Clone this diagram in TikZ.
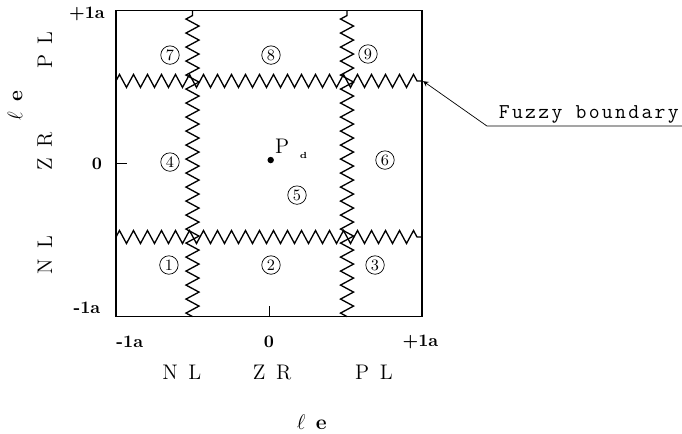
\documentclass[tikz,border=0pt]{standalone}
\usepackage{fontspec}
\newfontfamily\fuzzyfont[LetterSpace=11]{Latin Modern Mono}
\usetikzlibrary{decorations.pathmorphing}
\tikzset{
	fuzzy/.style={decorate,decoration={zigzag,segment length=.28cm,amplitude=.13cm},line width=.75pt},
	region/.style={circle,draw,inner sep=.5pt,minimum size=10.5pt,font=\small},
	tick/.style={font=\bfseries},
	term/.style={font=\large}
}
\begin{document}
\begin{tikzpicture}[>=stealth,scale=3.06]
			\def\xmin{-1}\def\xmax{1}\def\ymin{-1}\def\ymax{1}
			\useasboundingbox(-1.758,-1.761) rectangle (2.699,1.069);
			\draw[line width=1pt](\xmin,\ymin) rectangle (\xmax,\ymax);
			\draw(\xmin,0)--+(.07,0)(0,\ymin)--+(0,.07);
			% fuzzy boundaries
			\foreach \p in {-.5,.51}\draw[fuzzy](\p,\ymin)--(\p,\ymax);
			\foreach \p in {-.48,.54}\draw[fuzzy](\xmin,\p)--(\xmax,\p);
			% ticks
			\foreach \n/\x/\y/\t in {lt/-1.19/.977/+1a, lz/-1.124/0/0, lb/-1.19/-.944/-1a, bl/-.91/-1.167/-1a, bz/0/-1.167/0, br/.99/-1.167/+1a}
				\node[tick] (\n) at (\x,\y) {\t};
			\foreach \n/\x/\t in {bnl/-.57/N\enspace L, bzr/.02/Z\enspace R, bpl/.686/P\enspace L}
				\node[term] (\n) at (\x,-1.363) {\t};
			\foreach \n/\y/\t in {lnl/-.598/N\enspace L, lzr/.082/Z\enspace R, lpl/.742/P\enspace L}
				\node[term,rotate=90] (\n) at (-1.464,\y) {\t};
			\node[term] (le) at (.28,-1.69) {$\ell$\, \textbf{e}};
			\node[term,rotate=90] (dle) at (-1.66,.376) {$\ell$\, \textbf{e}};
			% regions
			\foreach \n/\x/\y in {1/-.654/-.663, 2/.013/-.663, 3/.693/-.663, 4/-.647/.01, 5/.183/-.206, 6/.758/.023, 7/-.647/.709, 8/.013/.709, 9/.647/.716}
				\node[region] (r\n) at (\x,\y) {\n};
			\coordinate (pdot) at (.011,.023);
			\fill (pdot) circle (.6pt);
			\node (pd) at (.145,.095) {\large P\hspace{6pt}\raisebox{-3pt}{\tiny\bfseries d}};
			% label
			\coordinate (tip) at (1.007,.539);
			\coordinate (lead) at (1.425,.245);
			\coordinate (uend) at (2.699,.245);
			\node (fuzzy) at (2.09,.322) {\fontsize{12}{14}\fuzzyfont Fuzzy boundary};
			\draw[->](uend)--(lead)--(tip);
		\end{tikzpicture}
\end{document}
